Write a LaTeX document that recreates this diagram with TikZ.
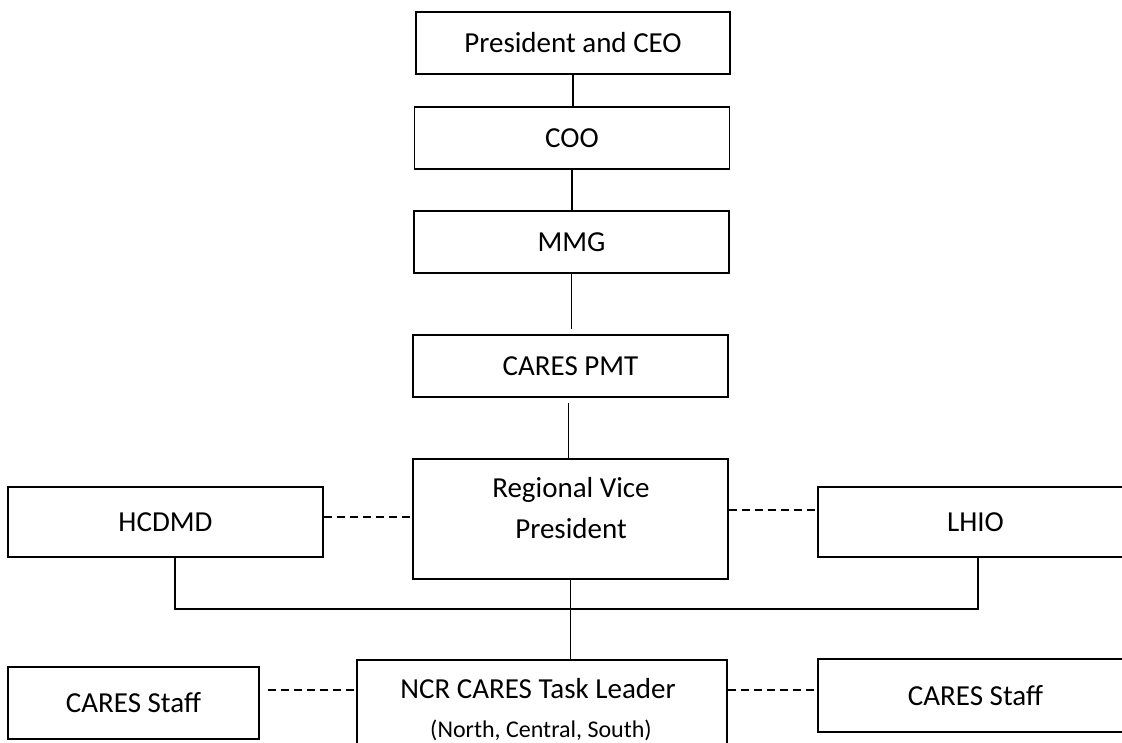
\documentclass[tikz,border=0pt]{standalone}
\usepackage{fontspec}
\setmainfont{Carlito}

\begin{document}
\begin{tikzpicture}[x=1pt,y=-1pt,
  box/.style={draw,line width=1.5pt,inner sep=0pt,minimum width=315,font=\fontsize{29}{35}\selectfont},
  lbl/.style={anchor=base,inner sep=0pt,font=\fontsize{29}{35}\selectfont},
  link/.style={line width=1.5pt},
  dashlink/.style={line width=1.5pt,dash pattern=on 8pt off 5pt}]
  \useasboundingbox (0,0) rectangle (1122,742);
  \clip (0,0) rectangle (1122,742);

  % Draw the chain of boxes
  \node[box,minimum width=314,minimum height=62] (ceo) at (573,43) {President and CEO};
  \node[box,minimum height=62] (coo) at (572,138) {COO};
  \node[box,minimum height=62] (mmg) at (571.5,242) {MMG};
  \node[box,minimum height=62] (pmt) at (570.5,366) {CARES PMT};

  % Regional level
  \node[box,minimum height=120] (rvp) at (570.5,519) {};
  \node[lbl] (rvptop) at (571,497) {Regional Vice};
  \node[lbl] (rvpbot) at (571,538) {President};
  \node[box,minimum height=70] (hcdmd) at (165.5,522) {HCDMD};
  \node[box,minimum height=70] (lhio) at (975.5,522) {LHIO};

  % Task leader level
  \node[box,minimum width=370,minimum height=100] (ncr) at (542,710) {};
  \node[lbl] (ncrtop) at (538,698) {NCR CARES Task Leader};
  \node[lbl,font=\fontsize{24}{28}\selectfont] (ncrsub) at (541,737) {(North, Central, South)};
  \node[box,minimum width=251,minimum height=72] (staffl) at (133.5,703) {CARES Staff};
  \node[box,minimum height=73] (staffr) at (975.5,695.5) {CARES Staff};

  % Solid links
  \foreach \a/\b in {ceo/coo,coo/mmg}
    \draw[link] (\a.south) -- (\a.south |- \b.north);
  \draw[link,shorten >=5pt] (mmg.south) -- (mmg.south |- pmt.north);
  \draw[link,shorten <=5pt] ([xshift=-2]pmt.south) -- ([xshift=-2]pmt.south |- rvp.north);
  \coordinate (bus) at (570,609);
  \draw[link] ([xshift=9.5]hcdmd.south) |- (bus) -| ([xshift=2.5]lhio.south);
  \draw[link] (rvp.south) -- (rvp.south |- ncr.north);

  % Dashed links
  \draw[dashlink] (hcdmd.east |- 0,517) -- (rvp.west |- 0,517);
  \draw[dashlink] (rvp.east |- 0,510) -- (lhio.west |- 0,510);
  \draw[dashlink,shorten <=8pt] (staffl.east |- 0,690) -- (ncr.west |- 0,690);
  \draw[dashlink] (ncr.east |- 0,690) -- (staffr.west |- 0,690);
\end{tikzpicture}
\end{document}
